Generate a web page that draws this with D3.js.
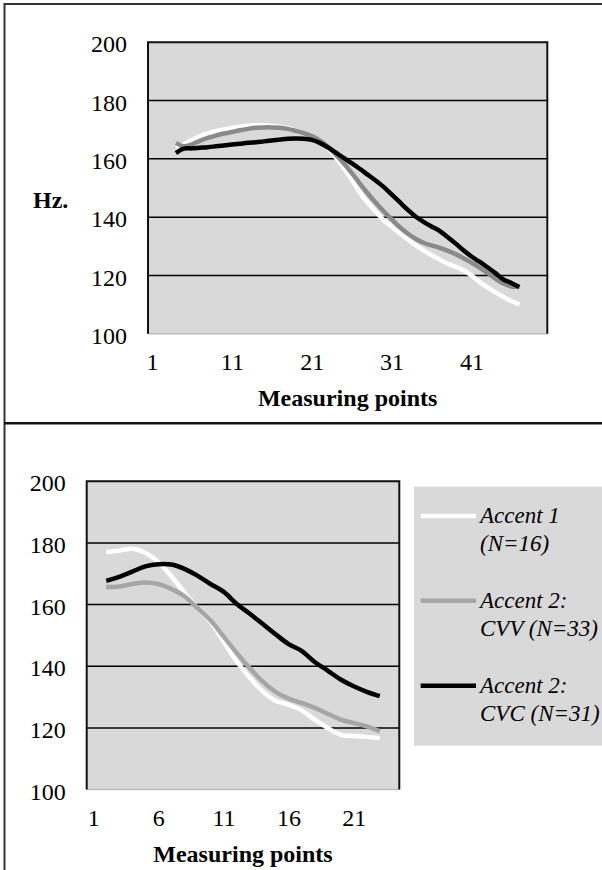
<!DOCTYPE html>
<html>
<head>
<meta charset="utf-8">
<script src="https://cdn.jsdelivr.net/npm/d3@7/dist/d3.min.js"></script>
<style>
  html, body { margin: 0; padding: 0; background: #fff; }
  svg { display: block; }
  text { font-family: "Liberation Serif", "Times New Roman", serif; fill: #000; }
</style>
</head>
<body>
<svg id="chart" width="602" height="870"></svg>
<script>
// ---- Data -------------------------------------------------------------
// Upper chart: 50 measuring points, F0 in Hz (null = no measurement)
const upperCategories = d3.range(1, 51).map(String);
const upperAccent1 = [null, null, null,
  164.0, 165.0, 166.5, 167.8, 168.8, 169.5, 170.1, 170.6, 171.0, 171.4,
  171.5, 171.5, 171.3, 171.0, 170.5, 169.7, 168.8, 167.7, 166.0, 163.8,
  160.5, 156.8, 153.0, 148.5, 145.0, 142.0, 139.0, 136.8, 134.6, 132.4,
  130.4, 128.6, 127.0, 125.5, 124.0, 123.0, 121.8, 120.0, 117.8, 115.9,
  114.2, 112.6, 111.2, 110.0, null, null, null];
const upperAccent2CVV = [null, null, null,
  165.5, 164.3, 165.0, 166.2, 167.2, 168.0, 168.7, 169.2, 169.8, 170.3,
  170.7, 170.8, 170.8, 170.7, 170.3, 169.6, 168.8, 167.8, 166.3, 164.2,
  161.5, 158.5, 155.2, 151.6, 148.2, 145.0, 142.0, 139.3, 136.6, 134.4,
  132.6, 131.2, 130.3, 129.5, 128.5, 127.3, 125.9, 124.4, 122.7, 120.9,
  118.9, 117.2, 116.2, 116.2, null, null, null];
const upperAccent2CVC = [null, null, null,
  162.0, 163.5, 163.6, 163.8, 164.0, 164.3, 164.6, 164.9, 165.2, 165.5,
  165.7, 166.0, 166.3, 166.6, 166.9, 167.0, 166.9, 166.5, 165.5, 164.0,
  162.2, 160.3, 158.5, 156.6, 154.6, 152.6, 150.4, 147.8, 145.2, 142.6,
  140.2, 138.4, 136.8, 135.3, 133.2, 131.0, 128.6, 126.5, 124.7, 122.8,
  120.8, 118.6, 117.4, 116.0, null, null, null];
const upperTickLabels = ["1", "11", "21", "31", "41"];

// Lower chart: 24 measuring points
const lowerCategories = d3.range(1, 25).map(String);
const lowerAccent1 = [null,
  177.1, 177.5, 178.1, 176.8, 173.8, 169.2, 163.9, 158.9, 154.4, 148.1,
  141.7, 136.4, 131.9, 128.8, 127.5, 125.7, 122.7, 120.0, 117.8, 117.4,
  117.1, 116.7, null];
const lowerAccent2CVV = [null,
  165.7, 165.9, 166.7, 167.2, 166.7, 165.1, 162.7, 158.9, 154.9, 149.7,
  144.4, 139.5, 135.1, 131.7, 129.5, 128.1, 126.5, 124.6, 122.7, 121.6,
  120.5, 118.9, null];
const lowerAccent2CVC = [null,
  167.7, 169.0, 170.7, 172.4, 173.1, 173.0, 171.6, 169.4, 166.7, 164.2,
  160.3, 157.1, 153.8, 150.4, 147.2, 145.0, 141.4, 138.6, 135.7, 133.5,
  131.7, 130.3, null];
const lowerTickLabels = ["1", "6", "11", "16", "21"];

const yTicks = [100, 120, 140, 160, 180, 200];
const seriesNames = [["Accent 1", "(N=16)"], ["Accent 2:", "CVV (N=33)"], ["Accent 2:", "CVC (N=31)"]];

// ---- Drawing ----------------------------------------------------------
const svg = d3.select("#chart");

// outer frame of the two panels
const frame = svg.append("g").attr("fill", "none");
frame.append("line").attr("x1", 4.5).attr("x2", 602).attr("y1", 4).attr("y2", 4)
  .attr("stroke", "#333").attr("stroke-width", 2);
frame.append("line").attr("x1", 4.5).attr("x2", 4.5).attr("y1", 3).attr("y2", 870)
  .attr("stroke", "#333").attr("stroke-width", 2);
frame.append("line").attr("x1", 4).attr("x2", 602).attr("y1", 423.3).attr("y2", 423.3)
  .attr("stroke", "#111").attr("stroke-width", 2.5);

function drawPanel(cfg) {
  const g = svg.append("g");
  const x = d3.scalePoint().domain(cfg.categories).range([cfg.left, cfg.right]).padding(0.5);
  const y = d3.scaleLinear().domain([100, 200]).range([cfg.bottom, cfg.top]);
  const w = cfg.right - cfg.left;

  // plot area
  g.append("rect").attr("x", cfg.left).attr("y", cfg.top)
    .attr("width", w).attr("height", cfg.bottom - cfg.top).attr("fill", "#d9d9d9");

  // horizontal gridlines
  g.append("g").selectAll("line").data(yTicks.filter(v => v > 100 && v < 200)).join("line")
    .attr("x1", cfg.left).attr("x2", cfg.right)
    .attr("y1", d => y(d)).attr("y2", d => y(d))
    .attr("stroke", "#000").attr("stroke-width", 1.5);

  // plot border
  g.append("line").attr("x1", cfg.left).attr("x2", cfg.right)
    .attr("y1", cfg.bottom).attr("y2", cfg.bottom)
    .attr("stroke", "#bdbdbd").attr("stroke-width", 1.5);
  g.append("path")
    .attr("d", `M${cfg.left},${cfg.bottom}V${cfg.top}H${cfg.right}V${cfg.bottom}`)
    .attr("fill", "none").attr("stroke", "#111").attr("stroke-width", 2);

  // y axis labels
  const yAxis = g.append("g").attr("transform", `translate(${cfg.left},0)`)
    .call(d3.axisLeft(y).tickValues(yTicks).tickSize(0).tickPadding(21).tickFormat(d3.format("d")));
  yAxis.select(".domain").remove();
  yAxis.selectAll("text").attr("font-size", 24).attr("dy", "0.4em")
    .style("font-family", "'Liberation Serif', 'Times New Roman', serif").attr("fill", "#000");

  // x axis labels
  const xAxis = g.append("g").attr("transform", `translate(0,${cfg.bottom})`)
    .call(d3.axisBottom(x).tickValues(cfg.tickLabels).tickSize(0).tickPadding(0));
  xAxis.select(".domain").remove();
  xAxis.selectAll("text").attr("font-size", 24).attr("dy", null).attr("y", 36)
    .style("font-family", "'Liberation Serif', 'Times New Roman', serif").attr("fill", "#000");

  // axis title
  g.append("text").attr("x", (cfg.left + cfg.right) / 2).attr("y", cfg.bottom + 72.5)
    .attr("text-anchor", "middle").attr("font-size", 24).attr("font-weight", "bold")
    .text("Measuring points");

  // series lines
  const line = d3.line()
    .defined(d => d.v != null)
    .x(d => x(d.c)).y(d => y(d.v))
    .curve(d3.curveCatmullRom.alpha(0.5));
  cfg.series.forEach(s => {
    const pts = cfg.categories.map((c, i) => ({ c, v: s.values[i] }));
    g.append("path").datum(pts).attr("d", line)
      .attr("fill", "none").attr("stroke", s.color).attr("stroke-width", 4.5)
      .attr("stroke-linejoin", "round").attr("stroke-linecap", "butt");
  });
  return { g, x, y };
}

drawPanel({
  left: 148, right: 547.3, top: 42.3, bottom: 333.7,
  categories: upperCategories, tickLabels: upperTickLabels,
  series: [
    { values: upperAccent1, color: "#ffffff" },
    { values: upperAccent2CVV, color: "#8a8a8a" },
    { values: upperAccent2CVC, color: "#000000" }
  ]
});

// y axis unit
svg.append("text").attr("x", 33).attr("y", 208.3).attr("font-size", 24)
  .attr("font-weight", "bold").text("Hz.");

const lowerColors = ["#ffffff", "#a6a6a6", "#000000"];
drawPanel({
  left: 86.7, right: 399.3, top: 481.3, bottom: 789.6,
  categories: lowerCategories, tickLabels: lowerTickLabels,
  series: [
    { values: lowerAccent1, color: lowerColors[0] },
    { values: lowerAccent2CVV, color: lowerColors[1] },
    { values: lowerAccent2CVC, color: lowerColors[2] }
  ]
});

// legend of the lower chart
const legend = svg.append("g");
legend.append("rect").attr("x", 414).attr("y", 486.7).attr("width", 200).attr("height", 259)
  .attr("fill", "#d9d9d9");
const entryY = [516, 600.7, 685.7];
seriesNames.forEach((name, i) => {
  const ly = entryY[i];
  legend.append("line").attr("x1", 420.7).attr("x2", 476).attr("y1", ly).attr("y2", ly)
    .attr("stroke", lowerColors[i]).attr("stroke-width", 4.5);
  const t = legend.append("text").attr("font-size", 23).attr("font-style", "italic");
  t.append("tspan").attr("x", 480).attr("y", ly + 7.3).text(name[0]);
  t.append("tspan").attr("x", 480).attr("y", ly + 35).text(name[1]);
});
</script>
</body>
</html>
